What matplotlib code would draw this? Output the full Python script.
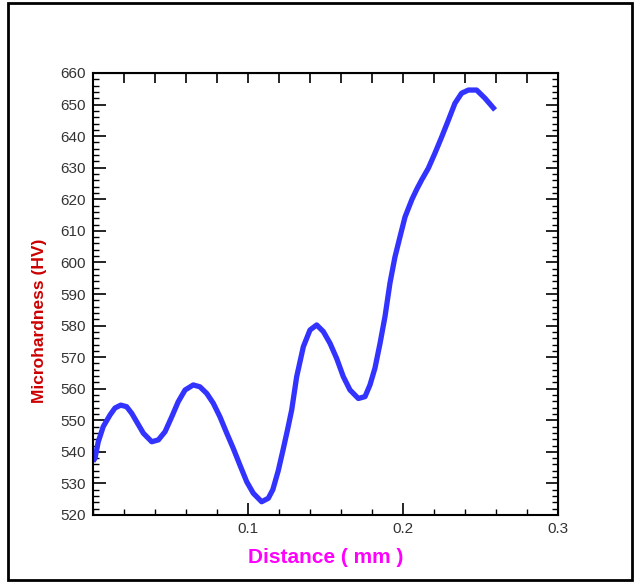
import matplotlib
matplotlib.use("Agg")
from matplotlib import pyplot as plt
from matplotlib.patches import Rectangle
from matplotlib.ticker import MultipleLocator

plt.rcParams['font.family'] = ['Liberation Sans', 'DejaVu Sans']

# distance (mm) vs microhardness (HV)
distance = [0.0, 0.0013, 0.0034, 0.0066, 0.011, 0.0142, 0.0179, 0.0217,
            0.025, 0.0282, 0.0325, 0.0379, 0.0422, 0.0465, 0.0508, 0.055,
            0.0594, 0.0647, 0.069, 0.0734, 0.0776, 0.0819, 0.0863, 0.0905,
            0.0948, 0.0992, 0.1034, 0.1088, 0.1131, 0.116, 0.1195, 0.1226,
            0.1255, 0.1282, 0.1314, 0.1357, 0.14, 0.1443, 0.1486, 0.1529,
            0.1572, 0.1615, 0.1658, 0.1712, 0.1755, 0.1787, 0.1819, 0.1852,
            0.1884, 0.1916, 0.1948, 0.198, 0.2013, 0.2058, 0.209, 0.212,
            0.2163, 0.2206, 0.225, 0.2293, 0.2335, 0.2378, 0.2422, 0.2475,
            0.2529, 0.2594]
hardness = [537.0, 538.0, 543.2, 548.0, 551.7, 553.9, 554.8, 554.3,
            552.2, 549.5, 545.9, 543.2, 543.8, 546.4, 551.1, 555.9,
            559.6, 561.2, 560.6, 558.5, 555.4, 551.1, 545.9, 541.1,
            535.8, 530.5, 526.9, 524.2, 525.3, 528.0, 534.0, 540.6,
            547.0, 553.3, 563.8, 573.3, 578.6, 580.2, 578.1, 574.4,
            569.6, 563.8, 559.6, 556.9, 557.5, 561.2, 566.5, 574.4,
            582.9, 593.5, 601.7, 608.0, 614.4, 620.0, 623.3, 626.1,
            629.8, 634.6, 639.8, 645.1, 650.4, 653.6, 654.6, 654.6,
            652.0, 648.3]

x_ticks = [0.1, 0.2, 0.3]
y_ticks = list(range(520, 661, 10))

fig = plt.figure(figsize=(6.34, 5.82), dpi=100)
ax = fig.add_axes([93 / 634, 67 / 582, 465 / 634, 442 / 582])

ax.plot(distance, hardness, color='#3333ff', linewidth=3.8,
        solid_capstyle='butt', solid_joinstyle='round')

ax.set_xlim(0, 0.3)
ax.set_ylim(520, 660)
ax.set_xticks(x_ticks)
ax.set_xticklabels(['0.1', '0.2', '0.3'])
ax.set_yticks(y_ticks)
ax.xaxis.set_minor_locator(MultipleLocator(0.02))
ax.yaxis.set_minor_locator(MultipleLocator(2))
ax.tick_params(which='major', direction='in', length=9, width=1.2,
               labelsize=11, labelcolor='#333333', pad=5)
ax.tick_params(which='minor', direction='in', length=4.5, width=1.0)
for s in ax.spines.values():
    s.set_linewidth(1.5)

# top: equal ticks every 0.02, no labels
top = ax.secondary_xaxis('top')
top.set_xticks([i * 0.02 for i in range(16)])
top.tick_params(direction='in', length=7, width=1.2, labeltop=False)
top.set_xticklabels([])

# right: same as left, no labels
right = ax.secondary_yaxis('right')
right.set_yticks(y_ticks)
right.yaxis.set_minor_locator(MultipleLocator(2))
right.tick_params(which='major', direction='in', length=9, width=1.2, labelright=False)
right.tick_params(which='minor', direction='in', length=4.5, width=1.0)
right.set_yticklabels([])

ax.set_xlabel('Distance ( mm )', color='#ff00ff', fontsize=15,
              fontweight='bold', labelpad=9)
fig.text(40 / 634, 1 - 321 / 582, 'Microhardness (HV)', color='#cc0000',
         fontsize=12.5, fontweight='bold', rotation=90,
         ha='center', va='center')

fig.patches.append(Rectangle((8 / 634, 2 / 582), 624 / 634, 577 / 582,
                             transform=fig.transFigure, fill=False,
                             edgecolor='black', linewidth=2))

plt.savefig('out.png', dpi=100)
